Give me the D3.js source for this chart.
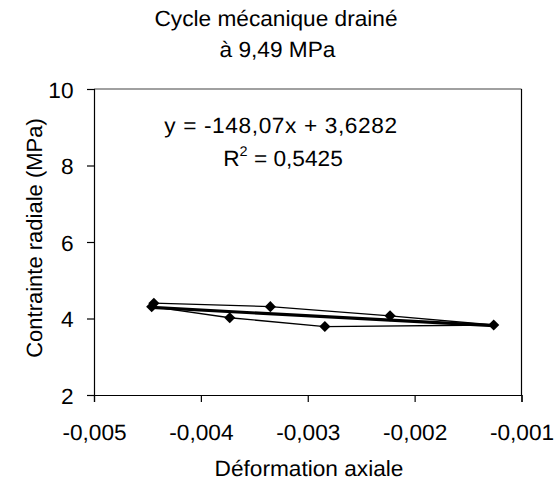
<!DOCTYPE html>
<html><head><meta charset="utf-8">
<script src="https://cdn.jsdelivr.net/npm/d3@7"></script>
<style>body{margin:0;background:#fff}svg{display:block}text{font-family:"Liberation Sans",Arial,sans-serif;fill:#000;text-rendering:geometricPrecision}</style>
</head><body><svg id="c" width="560" height="484"></svg>
<script>
const titleLines = ["Cycle mécanique drainé", "à 9,49 MPa"];
const xLabel = "Déformation axiale";
const yLabel = "Contrainte radiale (MPa)";
// cycle points (axial strain, radial stress), in path order
const strain = [-0.00444, -0.00335, -0.00223, -0.00126, -0.00284, -0.00373, -0.00446];
const stress = [4.40, 4.31, 4.07, 3.83, 3.79, 4.02, 4.31];
const trendSlope = -148.07, trendIntercept = 3.6282;
const eqText = "y = -148,07x + 3,6282";
const r2Value = "0,5425";
const xTicks = [-0.005, -0.004, -0.003, -0.002, -0.001];
const xTickLabels = ["-0,005", "-0,004", "-0,003", "-0,002", "-0,001"];
const yTicks = [2, 4, 6, 8, 10];
const yTickLabels = ["2", "4", "6", "8", "10"];

const svg = d3.select("#c");
const L = 94, R = 521.5, T = 89, B = 395;
const FS = 22, SX = 1.03;
const x = d3.scaleLinear().domain([-0.005, -0.001]).range([L, R]);
const y = d3.scaleLinear().domain([2, 10]).range([B, T]);

function stext(px, py, str, size, ls) {
  return svg.append("g").attr("transform", `translate(${px},${py}) scale(${SX},1)`)
    .append("text").attr("text-anchor", "middle").style("font-size", (size || FS) + "px")
    .style("letter-spacing", (ls || 0) + "px").text(str);
}

// frame
svg.append("line").attr("x1", L).attr("x2", R).attr("y1", T).attr("y2", T).attr("stroke", "#808080").attr("stroke-width", 1.5);
svg.append("line").attr("x1", R).attr("x2", R).attr("y1", T).attr("y2", B).attr("stroke", "#000").attr("stroke-width", 1.2);

// axes
const xAxis = svg.append("g").attr("transform", `translate(0,${B})`)
  .call(d3.axisBottom(x).tickValues(xTicks).tickSize(7).tickFormat((d, i) => xTickLabels[i]));
const yAxis = svg.append("g").attr("transform", `translate(${L},0)`)
  .call(d3.axisLeft(y).tickValues(yTicks).tickSize(7).tickFormat((d, i) => yTickLabels[i]));
[xAxis, yAxis].forEach(a => {
  a.select(".domain").attr("stroke", "#000").attr("stroke-width", 1.2);
  a.selectAll(".tick line").attr("stroke", "#000").attr("stroke-width", 1.2);
  a.selectAll("text").style("font-size", FS + "px").style("font-family", "'Liberation Sans',Arial,sans-serif").attr("fill", "#000");
});
xAxis.selectAll(".tick text").attr("y", 0).attr("dy", 0).attr("transform", `translate(0,45) scale(${SX},1)`);
yAxis.selectAll(".tick text").attr("x", 0).attr("dy", 0).attr("transform", `translate(-20.5,8) scale(${SX},1)`);

// series loop
const pts = strain.map((s, i) => [s, stress[i]]);
svg.append("path").datum(pts).attr("fill", "none").attr("stroke", "#000").attr("stroke-width", 1.3)
  .attr("d", d3.line().x(d => x(d[0])).y(d => y(d[1])));

// trend line
const xMin = d3.min(strain), xMax = d3.max(strain);
const tl = [xMin, xMax].map(v => [v, trendSlope * v + trendIntercept]);
svg.append("path").datum(tl).attr("fill", "none").attr("stroke", "#000").attr("stroke-width", 3.2)
  .attr("d", d3.line().x(d => x(d[0])).y(d => y(d[1])));

// markers
svg.append("g").selectAll("path").data(pts).join("path")
  .attr("transform", d => `translate(${x(d[0])},${y(d[1])}) rotate(45)`)
  .attr("d", d3.symbol().type(d3.symbolSquare).size(62)).attr("fill", "#000");

// equation
stext(281, 133, eqText, FS, 0.6);
const r2 = svg.append("g").attr("transform", `translate(283,166) scale(${SX},1)`)
  .append("text").attr("text-anchor", "middle").style("font-size", FS + "px");
r2.append("tspan").text("R");
r2.append("tspan").attr("dy", -10).style("font-size", "14px").text("2");
r2.append("tspan").attr("dy", 10).text(" = " + r2Value);

// titles
stext(276, 26, titleLines[0]);
stext(277.5, 57, titleLines[1]);
stext(309, 476, xLabel);
svg.append("g").attr("transform", `translate(42,238) rotate(-90)`)
  .append("text").attr("text-anchor", "middle").style("font-size", FS + "px").text(yLabel);
</script></body></html>
